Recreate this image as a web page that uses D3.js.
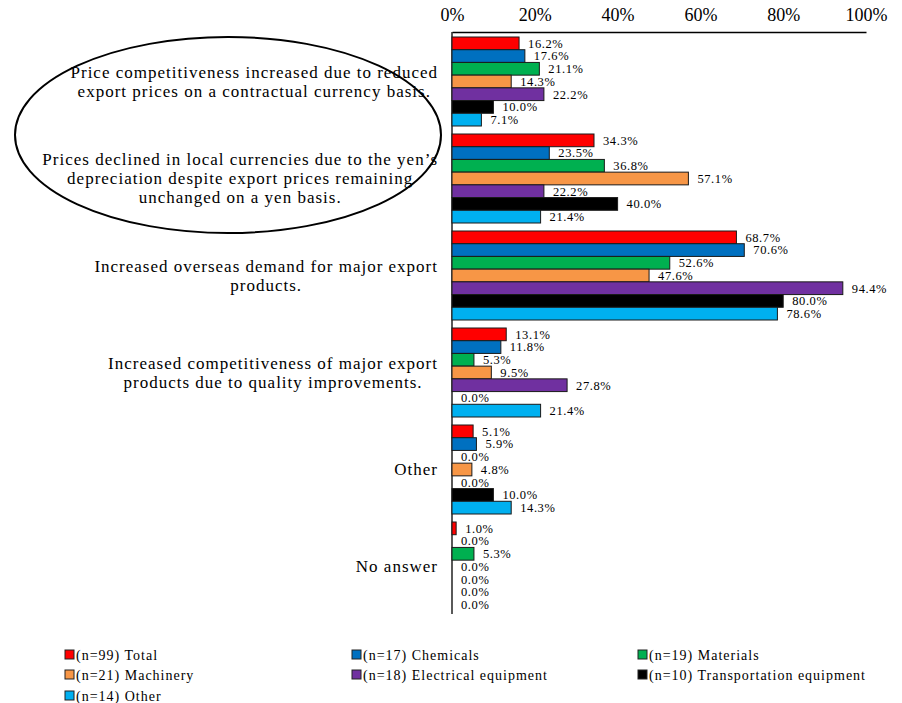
<!DOCTYPE html>
<html>
<head>
<meta charset="utf-8">
<script src="https://cdn.jsdelivr.net/npm/d3@7"></script>
<style>
  html, body { margin: 0; padding: 0; background: #fff; }
  svg { display: block; font-family: "Liberation Serif", "Times New Roman", serif; }
  svg text { font-family: "Liberation Serif", "Times New Roman", serif; }
</style>
</head>
<body>
<svg id="chart" width="902" height="703"></svg>
<script>
// Survey answers (multiple choice), share of respondents in %
const categories = [
  ["Price competitiveness increased due to reduced", "export prices on a contractual currency basis."],
  ["Prices declined in local currencies due to the yen\u2019s", "depreciation despite export prices remaining", "unchanged on a yen basis."],
  ["Increased overseas demand for major export", "products."],
  ["Increased competitiveness of major export", "products due to quality improvements."],
  ["Other"],
  ["No answer"]
];
const seriesNames = [
  "(n=99) Total",
  "(n=17) Chemicals",
  "(n=19) Materials",
  "(n=21) Machinery",
  "(n=18) Electrical equipment",
  "(n=10) Transportation equipment",
  "(n=14) Other"
];
const seriesColors = ["#FF0000", "#0070C0", "#00B050", "#F79646", "#7030A0", "#000000", "#00B0F0"];

// values[series][category]
const total          = [16.2, 34.3, 68.7, 13.1,  5.1, 1.0];
const chemicals      = [17.6, 23.5, 70.6, 11.8,  5.9, 0.0];
const materials      = [21.1, 36.8, 52.6,  5.3,  0.0, 5.3];
const machinery      = [14.3, 57.1, 47.6,  9.5,  4.8, 0.0];
const electrical     = [22.2, 22.2, 94.4, 27.8,  0.0, 0.0];
const transportation = [10.0, 40.0, 80.0,  0.0, 10.0, 0.0];
const otherInd       = [ 7.1, 21.4, 78.6, 21.4, 14.3, 0.0];
const seriesValues = [total, chemicals, materials, machinery, electrical, transportation, otherInd];

const tickValues = [0, 20, 40, 60, 80, 100];

const svg = d3.select("#chart");

const x = d3.scaleLinear().domain([0, 100]).range([452, 866]);
const catIdx = d3.range(categories.length);
const y0 = d3.scaleBand().domain(catIdx).range([33, 615]).padding(0);
const y1 = d3.scaleBand().domain(d3.range(seriesNames.length))
  .range([4, y0.bandwidth() - 4]).padding(0);

// Top axis
const axis = d3.axisTop(x).tickValues(tickValues).tickSize(0).tickPadding(0)
  .tickFormat(d => d + "%");
const gAxis = svg.append("g").attr("transform", "translate(0,32)").call(axis);
gAxis.attr("font-family", null);
gAxis.select(".domain").attr("stroke", "#000").attr("stroke-width", 1.3);
gAxis.selectAll("text")
  .attr("font-size", 18)
  .attr("fill", "#000")
  .attr("y", -11);

// Vertical baseline
svg.append("line")
  .attr("x1", x(0)).attr("x2", x(0))
  .attr("y1", 32).attr("y2", 614)
  .attr("stroke", "#000").attr("stroke-width", 1.3);

// Bars and value labels
const groups = svg.selectAll("g.cat").data(catIdx).join("g")
  .attr("class", "cat")
  .attr("transform", c => `translate(0,${y0(c)})`);

groups.each(function(c) {
  const g = d3.select(this);
  const rows = seriesValues.map((vals, s) => ({ s, v: vals[c] }));
  g.selectAll("rect").data(rows.filter(d => d.v > 0)).join("rect")
    .attr("x", x(0))
    .attr("y", d => y1(d.s))
    .attr("width", d => x(d.v) - x(0))
    .attr("height", y1.bandwidth())
    .attr("fill", d => seriesColors[d.s])
    .attr("stroke", "#1a1a1a")
    .attr("stroke-width", 1);
  g.selectAll("text").data(rows).join("text")
    .attr("x", d => x(d.v) + 9)
    .attr("y", d => y1(d.s) + y1.bandwidth() / 2)
    .attr("dy", "0.35em")
    .attr("font-size", 12.5)
    .attr("letter-spacing", 0.6)
    .attr("fill", "#000")
    .text(d => d.v.toFixed(1) + "%");
});

// Category labels: block right-aligned, lines centred within the block
const lineH = 19;
const labelRight = 438;
catIdx.forEach(c => {
  const lines = categories[c];
  const g = svg.append("g");
  const texts = lines.map((ln, i) => g.append("text")
    .attr("font-size", 17)
    .attr("letter-spacing", 1)
    .attr("fill", "#000")
    .attr("text-anchor", "middle")
    .attr("y", y0(c) + y0.bandwidth() / 2 + (i - (lines.length - 1) / 2) * lineH)
    .attr("dy", "0.35em")
    .text(ln));
  const w = d3.max(texts, t => t.node().getComputedTextLength());
  texts.forEach(t => t.attr("x", labelRight - w / 2));
});

// Ellipse around the first two answers
svg.append("ellipse")
  .attr("cx", 228).attr("cy", 135)
  .attr("rx", 213).attr("ry", 98)
  .attr("fill", "none")
  .attr("stroke", "#000")
  .attr("stroke-width", 2);

// Legend
const legendCols = [65, 352, 638];
const legendRows = [655, 675, 696];
const leg = svg.selectAll("g.leg").data(seriesNames).join("g")
  .attr("class", "leg")
  .attr("transform", (d, i) => `translate(${legendCols[i % 3]},${legendRows[Math.floor(i / 3)]})`);
leg.append("rect")
  .attr("x", 0).attr("y", -5).attr("width", 9).attr("height", 9)
  .attr("fill", (d, i) => seriesColors[i])
  .attr("stroke", "#222").attr("stroke-width", 1);
leg.append("text")
  .attr("x", 11).attr("dy", "0.35em")
  .attr("font-size", 14)
  .attr("letter-spacing", 1)
  .attr("fill", "#000")
  .text(d => d);
</script>
</body>
</html>
